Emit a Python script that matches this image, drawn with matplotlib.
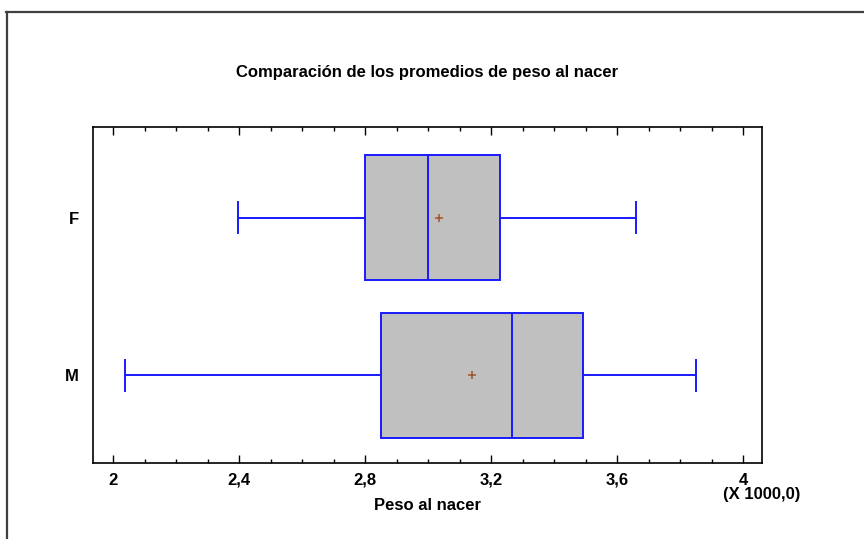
import matplotlib
matplotlib.use("Agg")
import matplotlib.pyplot as plt
from matplotlib.lines import Line2D
from matplotlib.ticker import MultipleLocator, FixedLocator, FixedFormatter

plt.rcParams['font.family'] = ['Liberation Sans', 'DejaVu Sans']
plt.rcParams['font.weight'] = 'bold'

categories = ["M", "F"]
whislo = [2.037, 2.398]
q1 = [2.851, 2.800]
med = [3.267, 3.001]
q3 = [3.491, 3.230]
whishi = [3.851, 3.660]
means = [3.141, 3.036]
xticks = [2.0, 2.4, 2.8, 3.2, 3.6, 4.0]
xticklabels = ["2", "2,4", "2,8", "3,2", "3,6", "4"]

fig = plt.figure(figsize=(8.64, 5.39), dpi=100)
W, H = 864, 539
ax = fig.add_axes([93 / W, 1 - 462.5 / H, (762 - 93) / W, (462.5 - 127) / H])

stats = []
for i in range(len(categories)):
    stats.append(dict(label=categories[i], whislo=whislo[i], q1=q1[i], med=med[i],
                      q3=q3[i], whishi=whishi[i], mean=means[i], fliers=[]))

blue = '#1a1aff'
ax.bxp(stats, positions=[1, 2], widths=0.79, vert=False, patch_artist=True,
       showmeans=True, capwidths=0.196,
       boxprops=dict(facecolor='#c0c0c0', edgecolor=blue, linewidth=1.4),
       medianprops=dict(color=blue, linewidth=1.4),
       whiskerprops=dict(color=blue, linewidth=1.4),
       capprops=dict(color=blue, linewidth=1.4),
       meanprops=dict(marker='+', markeredgecolor='#a0522d', markersize=5.5, markeredgewidth=1.1))

ax.set_xlim(2 - 20 / 315, 4 + 19 / 315)
ax.set_ylim(0.449, 2.573)

ax.xaxis.set_major_locator(FixedLocator(xticks))
ax.xaxis.set_major_formatter(FixedFormatter(xticklabels))
ax.xaxis.set_minor_locator(MultipleLocator(0.1))
ax.tick_params(axis='x', which='major', direction='in', top=True, bottom=True,
               length=6, width=1, labelsize=12, pad=16)
ax.tick_params(axis='x', which='minor', direction='in', top=True, bottom=True,
               length=3, width=1)
ax.set_yticks([1, 2])
ax.set_yticklabels(categories)
ax.tick_params(axis='y', which='both', length=0, labelsize=12, pad=10)
for lab in ax.get_xticklabels():
    lab.set_fontweight('bold')
    lab.set_verticalalignment('baseline')
for lab in ax.get_yticklabels():
    lab.set_fontweight('bold')
for s in ax.spines.values():
    s.set_linewidth(1.2)

fig.text(427.5 / W, 1 - 72 / H, "Comparación de los promedios de peso al nacer",
         ha='center', va='center', fontsize=12, fontweight='bold')
fig.text(427.5 / W, 1 - 506 / H, "Peso al nacer", ha='center', va='center',
         fontsize=12, fontweight='bold')
fig.text(762 / W, 1 - 494 / H, "(X 1000,0)", ha='center', va='center',
         fontsize=12, fontweight='bold')

fig.add_artist(Line2D([6 / W, 1], [1 - 12 / H, 1 - 12 / H], transform=fig.transFigure,
                      color='#404040', linewidth=1.6))
fig.add_artist(Line2D([7 / W, 7 / W], [1 - 12 / H, 0], transform=fig.transFigure,
                      color='#404040', linewidth=1.6))

fig.savefig("out.png", dpi=100)
